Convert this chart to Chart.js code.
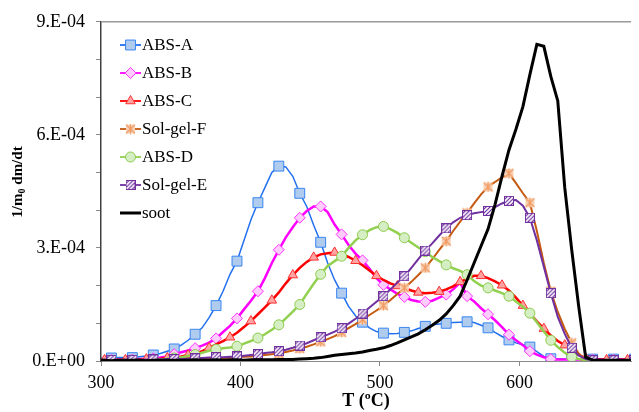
<!DOCTYPE html>
<html lang="en">
<head>
  <meta charset="UTF-8">
  <title>DTG curves</title>
  <script src="https://cdn.jsdelivr.net/npm/chart.js"></script>
  <style>
    body {
      margin: 0;
      background: #ffffff;
    }
    #wrap {
      width: 639px;
      height: 412px;
    }
  </style>
</head>
<body>
  <div id="wrap"><canvas id="dtg" width="639" height="412"></canvas></div>

  <script>
    // temperature grid, ºC
    const temps = [
      297.5, 302.5, 307.5, 312.5, 317.5, 322.5, 327.5, 332.5, 337.5, 342.5,
      347.5, 352.5, 357.5, 362.5, 367.5, 372.5, 377.5, 382.5, 387.5, 392.5,
      397.5, 402.5, 407.5, 412.5, 417.5, 422.5, 427.5, 432.5, 437.5, 442.5,
      447.5, 452.5, 457.5, 462.5, 467.5, 472.5, 477.5, 482.5, 487.5, 492.5,
      497.5, 502.5, 507.5, 512.5, 517.5, 522.5, 527.5, 532.5, 537.5, 542.5,
      547.5, 552.5, 557.5, 562.5, 567.5, 572.5, 577.5, 582.5, 587.5, 592.5,
      597.5, 602.5, 607.5, 612.5, 617.5, 622.5, 627.5, 632.5, 637.5, 642.5,
      647.5, 652.5, 657.5, 662.5, 667.5, 672.5, 677.5, 682.5
    ];

    // 1/m0 dm/dt, in units of 1E-4
    const absA = [
      0.08, 0.08, 0.08, 0.09, 0.09, 0.09, 0.11, 0.13, 0.16, 0.2,
      0.26, 0.32, 0.42, 0.55, 0.71, 0.88, 1.15, 1.47, 1.85, 2.3,
      2.65, 3.2, 3.75, 4.2, 4.6, 5.0, 5.17, 5.15, 4.9, 4.45,
      4.1, 3.6, 3.15, 2.6, 2.15, 1.8, 1.45, 1.2, 1.03, 0.88,
      0.78, 0.74, 0.72, 0.73, 0.76, 0.8, 0.86, 0.92, 0.96, 0.98,
      1.0, 1.02, 1.03, 1.04, 1.02, 0.95, 0.88, 0.76, 0.65, 0.56,
      0.48, 0.43, 0.37, 0.25, 0.12, 0.06, 0.05, 0.05, 0.05, 0.05,
      0.05, 0.05, 0.05, 0.05, 0.05, 0.05, 0.05, 0.05
    ];
    const absB = [
      0.03, 0.03, 0.03, 0.03, 0.04, 0.04, 0.05, 0.06, 0.07, 0.09,
      0.12, 0.18, 0.23, 0.28, 0.34, 0.41, 0.49, 0.6, 0.77, 0.93,
      1.13, 1.37, 1.6, 1.85, 2.2, 2.6, 2.95, 3.28, 3.55, 3.8,
      3.98, 4.1, 4.1, 3.95, 3.62, 3.36, 3.08, 2.85, 2.67, 2.45,
      2.2, 2.02, 1.9, 1.78, 1.7, 1.62, 1.58, 1.57, 1.6, 1.68,
      1.76, 1.9, 2.08, 1.72, 1.58, 1.4, 1.24, 1.08, 0.9, 0.7,
      0.55, 0.42, 0.26, 0.17, 0.1, 0.05, 0.04, 0.04, 0.04, 0.04,
      0.04, 0.04, 0.04, 0.04, 0.04, 0.04, 0.04, 0.04
    ];
    const absC = [
      0.03, 0.03, 0.03, 0.03, 0.03, 0.04, 0.04, 0.05, 0.05, 0.06,
      0.08, 0.1, 0.12, 0.16, 0.2, 0.26, 0.35, 0.44, 0.53, 0.63,
      0.75, 0.9, 1.06, 1.24, 1.42, 1.61, 1.82, 2.06, 2.28, 2.47,
      2.63, 2.75, 2.83, 2.86, 2.88, 2.84, 2.76, 2.66, 2.54, 2.4,
      2.26, 2.15, 2.06, 1.99, 1.93, 1.87, 1.82, 1.8, 1.81, 1.84,
      1.9, 1.98, 2.1, 2.18, 2.26, 2.26, 2.2, 2.11, 2.01, 1.87,
      1.68, 1.47, 1.26, 1.05, 0.86, 0.68, 0.53, 0.42, 0.29, 0.16,
      0.07, 0.04, 0.03, 0.03, 0.03, 0.03, 0.03, 0.03
    ];
    const solGelF = [
      0.02, 0.02, 0.02, 0.02, 0.02, 0.02, 0.02, 0.02, 0.03, 0.03,
      0.03, 0.04, 0.04, 0.04, 0.05, 0.05, 0.06, 0.07, 0.08, 0.09,
      0.1, 0.11, 0.12, 0.14, 0.16, 0.18, 0.2, 0.24, 0.28, 0.33,
      0.38, 0.44, 0.51, 0.58, 0.66, 0.76, 0.87, 0.98, 1.1, 1.22,
      1.34, 1.47, 1.62, 1.78, 1.94, 2.1, 2.28, 2.47, 2.7, 2.95,
      3.18, 3.45, 3.7, 3.93, 4.18, 4.42, 4.62, 4.75, 4.87, 4.98,
      4.72, 4.45, 4.2, 3.45, 2.6, 1.85, 1.3, 0.85, 0.48, 0.2,
      0.03, 0.02, 0.02, 0.02, 0.02, 0.02, 0.02, 0.02
    ];
    const absD = [
      0.0, 0.0, 0.01, 0.01, 0.01, 0.02, 0.02, 0.02, 0.02, 0.04,
      0.06, 0.08, 0.1, 0.13, 0.17, 0.22, 0.27, 0.31, 0.34, 0.36,
      0.39, 0.46, 0.53, 0.61, 0.71, 0.83, 0.96, 1.13, 1.31, 1.5,
      1.78, 2.05, 2.3, 2.52, 2.65, 2.78, 3.0, 3.2, 3.35, 3.47,
      3.55, 3.57, 3.5, 3.4, 3.27, 3.14, 3.01, 2.9, 2.76, 2.65,
      2.55, 2.46, 2.39, 2.29, 2.12, 2.0, 1.94, 1.87, 1.8, 1.72,
      1.58, 1.44, 1.27, 1.03, 0.78, 0.55, 0.37, 0.22, 0.11, 0.05,
      0.03, 0.02, 0.02, 0.02, 0.02, 0.02, 0.02, 0.02
    ];
    const solGelE = [
      0.03, 0.03, 0.03, 0.03, 0.03, 0.03, 0.04, 0.04, 0.04, 0.04,
      0.05, 0.05, 0.05, 0.06, 0.07, 0.08, 0.09, 0.1, 0.1, 0.11,
      0.12, 0.14, 0.16, 0.18, 0.21, 0.23, 0.26, 0.3, 0.35, 0.41,
      0.47, 0.55, 0.63, 0.7, 0.78, 0.87, 0.99, 1.12, 1.26, 1.42,
      1.57, 1.72, 1.9, 2.08, 2.25, 2.47, 2.7, 2.93, 3.12, 3.33,
      3.52, 3.68, 3.8, 3.87, 3.92, 3.95, 3.98, 4.08, 4.18, 4.25,
      4.27, 4.12, 3.8, 3.2, 2.5, 1.8, 1.17, 0.72, 0.35, 0.15,
      0.05, 0.02, 0.02, 0.02, 0.02, 0.02, 0.02, 0.02
    ];
    const soot = [
      0.02, 0.02, 0.01, 0.02, 0.02, 0.02, 0.02, 0.01, 0.02, 0.02,
      0.02, 0.02, 0.02, 0.02, 0.03, 0.02, 0.02, 0.03, 0.02, 0.03,
      0.03, 0.02, 0.03, 0.03, 0.03, 0.03, 0.04, 0.04, 0.04, 0.05,
      0.06, 0.07, 0.09, 0.12, 0.15, 0.17, 0.19, 0.21, 0.24, 0.28,
      0.31, 0.35, 0.41, 0.48, 0.56, 0.64, 0.72, 0.83, 0.95, 1.08,
      1.25, 1.47, 1.72, 2.15, 2.6, 3.05, 3.5, 4.15, 4.9, 5.6,
      6.15, 6.75, 7.6, 8.4, 8.35, 7.55, 6.9, 4.6, 2.95, 1.45,
      0.1, 0.02, 0.02, 0.02, 0.02, 0.02, 0.02, 0.02
    ];

    const seriesNames = ['ABS-A', 'ABS-B', 'ABS-C', 'Sol-gel-F', 'ABS-D', 'Sol-gel-E', 'soot'];
    const yTickLabels = ['0.E+00', '3.E-04', '6.E-04', '9.E-04'];

    const SERIF = '"Liberation Serif", "Times New Roman", serif';
    Chart.defaults.font.family = SERIF;
    Chart.defaults.font.size = 18;
    Chart.defaults.color = '#000';

    // small canvas markers for the two sol-gel series
    function starMarker() {
      const c = document.createElement('canvas');
      c.width = 11; c.height = 11;
      const g = c.getContext('2d');
      g.fillStyle = '#F9D2B6';
      g.fillRect(1, 1, 9, 9);
      g.strokeStyle = '#F09A62';
      g.lineWidth = 1.2;
      g.beginPath();
      g.moveTo(1, 1); g.lineTo(10, 10);
      g.moveTo(10, 1); g.lineTo(1, 10);
      g.moveTo(5.5, 0.5); g.lineTo(5.5, 10.5);
      g.stroke();
      return c;
    }

    function hatchMarker() {
      const c = document.createElement('canvas');
      c.width = 10; c.height = 10;
      const g = c.getContext('2d');
      g.fillStyle = '#fff';
      g.fillRect(0, 0, 10, 10);
      g.strokeStyle = '#7030A0';
      g.lineWidth = 1.1;
      g.beginPath();
      for (let k = -10; k < 20; k += 4) {
        g.moveTo(k, 10);
        g.lineTo(k + 10, 0);
      }
      g.stroke();
      g.lineWidth = 1;
      g.strokeRect(0.5, 0.5, 9, 9);
      return c;
    }

    // line and marker styling per series, same order as seriesNames
    const looks = [
      { values: absA,    line: '#2270F0', width: 1.5, style: 'rect',     size: 7,   fill: '#AFCBEE', edge: '#3A86F2', phase: 2 },
      { values: absB,    line: '#FF00FF', width: 2.5, style: 'rectRot',  size: 5.5, fill: '#FFCCFF', edge: '#FF33FF', phase: 2 },
      { values: absC,    line: '#FF0000', width: 2.5, style: 'triangle', size: 5.5, fill: '#FFA3A3', edge: '#FF3030', phase: 1 },
      { values: solGelF, line: '#C55A11', width: 2,   style: starMarker(), size: 5, fill: null,      edge: null,      phase: 2 },
      { values: absD,    line: '#92D050', width: 2.5, style: 'circle',   size: 5,   fill: '#D6EEC4', edge: '#8CCB4C', phase: 2 },
      { values: solGelE, line: '#7030A0', width: 2,   style: hatchMarker(), size: 5, fill: null,     edge: null,      phase: 2 },
      { values: soot,    line: '#000000', width: 3,   style: false,      size: 0,   fill: null,      edge: null,      phase: -1 }
    ];

    const datasets = looks.map((s, i) => ({
      label: seriesNames[i],
      data: temps.map((t, k) => ({ x: t, y: s.values[k] })),
      borderColor: s.line,
      borderWidth: s.width,
      pointStyle: s.style,
      pointBackgroundColor: s.fill || s.line,
      pointBorderColor: s.edge || s.line,
      pointBorderWidth: 1,
      pointRadius: ctx => (s.phase >= 0 && ctx.dataIndex % 3 === s.phase ? s.size : 0),
      pointHoverRadius: 0,
      tension: 0,
      clip: 0,
      order: looks.length - i,
      markerSize: s.size
    }));

    function drawMarker(ctx, ds, x, y) {
      const style = ds.pointStyle;
      if (!style) return;
      if (typeof style !== 'string') {
        ctx.drawImage(style, x - style.width / 2, y - style.height / 2);
        return;
      }
      const r = ds.markerSize;
      ctx.fillStyle = ds.pointBackgroundColor;
      ctx.strokeStyle = ds.pointBorderColor;
      ctx.lineWidth = 1;
      ctx.beginPath();
      if (style === 'rect') {
        const h = r * Math.SQRT1_2;
        ctx.rect(x - h, y - h, 2 * h, 2 * h);
      } else if (style === 'rectRot') {
        ctx.moveTo(x, y - r); ctx.lineTo(x + r, y);
        ctx.lineTo(x, y + r); ctx.lineTo(x - r, y);
        ctx.closePath();
      } else if (style === 'triangle') {
        const dx = r * Math.sin(Math.PI * 2 / 3);
        ctx.moveTo(x, y - r); ctx.lineTo(x + dx, y + r / 2);
        ctx.lineTo(x - dx, y + r / 2);
        ctx.closePath();
      } else {
        ctx.arc(x, y, r, 0, Math.PI * 2);
      }
      ctx.fill();
      ctx.stroke();
    }

    // legend inside the plot, top left
    const insetLegend = {
      id: 'insetLegend',
      afterDraw(chart) {
        const ctx = chart.ctx;
        chart.data.datasets.forEach((ds, i) => {
          const y = 45 + i * 28;
          ctx.save();
          ctx.strokeStyle = ds.borderColor;
          ctx.lineWidth = ds.borderWidth >= 3 ? 3 : 1.8;
          ctx.beginPath();
          ctx.moveTo(120, y);
          ctx.lineTo(141, y);
          ctx.stroke();
          drawMarker(ctx, ds, 130.5, y);
          ctx.fillStyle = '#000';
          ctx.font = '17px ' + SERIF;
          ctx.textBaseline = 'middle';
          ctx.textAlign = 'left';
          ctx.fillText(ds.label, 142, y + 1);
          ctx.restore();
        });
      }
    };

    // top frame line and the vertical axis title with its subscript
    const frameAndTitle = {
      id: 'frameAndTitle',
      afterDraw(chart) {
        const ctx = chart.ctx;
        const area = chart.chartArea;
        ctx.save();
        ctx.strokeStyle = '#9a9a9a';
        ctx.lineWidth = 1.5;
        ctx.beginPath();
        ctx.moveTo(area.left, area.top);
        ctx.lineTo(area.right, area.top);
        ctx.stroke();

        const big = 'bold 15px ' + SERIF;
        const small = 'bold 10px ' + SERIF;
        ctx.fillStyle = '#000';
        ctx.textBaseline = 'middle';
        ctx.textAlign = 'left';
        ctx.font = big;
        const w1 = ctx.measureText('1/m').width;
        const w3 = ctx.measureText(' dm/dt').width;
        ctx.font = small;
        const w2 = ctx.measureText('0').width;
        const x0 = -(w1 + w2 + w3) / 2;
        ctx.translate(18, 182);
        ctx.rotate(-Math.PI / 2);
        ctx.font = big;
        ctx.fillText('1/m', x0, 0);
        ctx.font = small;
        ctx.fillText('0', x0 + w1, 4);
        ctx.font = big;
        ctx.fillText(' dm/dt', x0 + w1 + w2, 0);
        ctx.restore();
      }
    };

    new Chart(document.getElementById('dtg'), {
      type: 'line',
      data: { datasets },
      options: {
        responsive: false,
        animation: false,
        layout: { padding: { top: 21, right: 0, bottom: 0, left: 0 } },
        plugins: {
          legend: { display: false },
          tooltip: { enabled: false }
        },
        scales: {
          x: {
            type: 'linear',
            min: 300,
            max: 680,
            border: { color: '#8a8a8a', width: 1 },
            grid: { drawOnChartArea: false, drawTicks: true, tickLength: 5, color: '#8a8a8a' },
            ticks: { stepSize: 100, includeBounds: false, autoSkip: false, maxRotation: 0, padding: 6, color: '#000' },
            title: {
              display: true,
              text: 'T (ºC)',
              font: { size: 18, weight: 'bold' },
              padding: { top: 0, bottom: 0 },
              color: '#000'
            },
            afterFit: scale => { scale.height = 51; }
          },
          y: {
            min: 0,
            max: 9,
            border: { color: '#404040', width: 1.5 },
            grid: { drawOnChartArea: false, drawTicks: true, tickLength: 5, color: '#8a8a8a' },
            ticks: {
              stepSize: 1,
              autoSkip: false,
              padding: 11,
              color: '#000',
              callback: v => (v % 3 === 0 ? yTickLabels[v / 3] : '')
            },
            afterFit: scale => { scale.width = 101; }
          }
        }
      },
      plugins: [frameAndTitle, insetLegend]
    });
  </script>
</body>
</html>
